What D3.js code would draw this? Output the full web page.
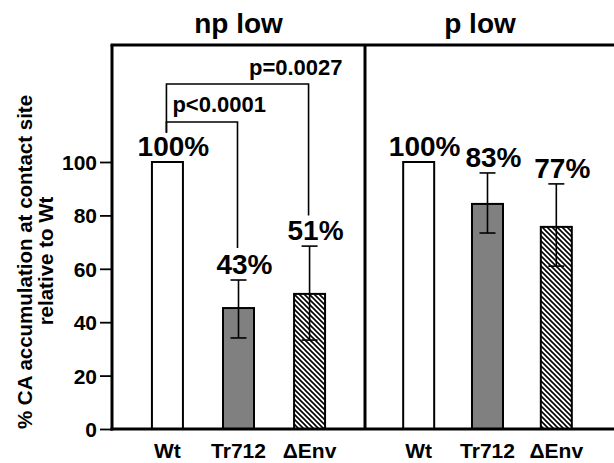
<!DOCTYPE html>
<html>
<head>
<meta charset="utf-8">
<script src="https://cdn.jsdelivr.net/npm/d3@7"></script>
<style>
  body { margin: 0; background: #fff; }
  svg { font-family: "Liberation Sans", Arial, sans-serif; font-weight: bold; }
</style>
</head>
<body>
<svg id="chart" width="614" height="463"></svg>
<script>
// Data
const categories = ["Wt", "Tr712", "\u0394Env"];
const panels = ["np low", "p low"];
const npLowValues = [100, 45.3, 50.6];
const npLowErrors = [null, [34.1, 55.8], [33.3, 68.5]];
const npLowLabels = ["100%", "43%", "51%"];
const pLowValues = [100, 84.3, 75.7];
const pLowErrors = [null, [73.4, 95.9], [61.0, 91.8]];
const pLowLabels = ["100%", "83%", "77%"];
const yTicks = [0, 20, 40, 60, 80, 100];
// significance brackets (np low panel): from, to, bar level, drop ends, text
const brackets = [
    { from: "Wt", to: "Tr712", level: 115, fromEnd: 111, toEnd: 67.8, text: "p<0.0001" },
    { from: "Wt", to: "\u0394Env", level: 129.2, fromEnd: 111, toEnd: 80, text: "p=0.0027" }
];

const svg = d3.select("#chart");
const plotTop = 45, plotBottom = 429, plotLeft = 112, plotMid = 365, plotRight = 614;
const barW = 31;
const fills = ["#fff", "#808080", "url(#hatch)"];

const y = d3.scaleLinear().domain([0, 100]).range([plotBottom, 162]);

// hatch pattern
const pat = svg.append("defs").append("pattern")
    .attr("id", "hatch")
    .attr("patternUnits", "userSpaceOnUse")
    .attr("width", 5).attr("height", 5);
pat.append("rect").attr("width", 5).attr("height", 5).attr("fill", "#fff");
pat.append("path")
    .attr("d", "M-1,-1 L6,6 M-1,4 L1,6 M4,-1 L6,1")
    .attr("stroke", "#000").attr("stroke-width", 1.6);

const xLeft = d3.scalePoint().domain(categories).range([plotLeft, plotMid]).padding(0.78);
const xRight = d3.scalePoint().domain(categories).range([plotMid, plotRight - 4]).padding(0.78);

const panelData = [
    { name: panels[0], x: xLeft, values: npLowValues, errors: npLowErrors, labels: npLowLabels, cx: (plotLeft + plotMid) / 2 },
    { name: panels[1], x: xRight, values: pLowValues, errors: pLowErrors, labels: pLowLabels, cx: 480 }
];

panelData.forEach(p => {
    const g = svg.append("g");
    const rows = categories.map((c, i) => ({ c, i, v: p.values[i], e: p.errors[i], l: p.labels[i] }));

    g.selectAll("rect.bar").data(rows).join("rect")
        .attr("class", "bar")
        .attr("x", d => p.x(d.c) - barW / 2)
        .attr("y", d => y(d.v))
        .attr("width", barW)
        .attr("height", d => y(0) - y(d.v))
        .attr("fill", d => fills[d.i])
        .attr("stroke", "#000")
        .attr("stroke-width", 2);

    const eb = rows.filter(d => d.e);
    g.selectAll("line.err").data(eb).join("line")
        .attr("class", "err")
        .attr("x1", d => p.x(d.c)).attr("x2", d => p.x(d.c))
        .attr("y1", d => y(d.e[0])).attr("y2", d => y(d.e[1]))
        .attr("stroke", "#000").attr("stroke-width", 1.6);
    eb.forEach(d => {
        d.e.forEach(v => {
            g.append("line")
                .attr("x1", p.x(d.c) - 8).attr("x2", p.x(d.c) + 8)
                .attr("y1", y(v)).attr("y2", y(v))
                .attr("stroke", "#000").attr("stroke-width", 1.6);
        });
    });

    g.selectAll("text.pct").data(rows).join("text")
        .attr("class", "pct")
        .attr("x", d => p.x(d.c) + 6)
        .attr("y", d => y(d.e ? d.e[1] : d.v) - 6)
        .attr("text-anchor", "middle")
        .attr("font-size", 28)
        .text(d => d.l);

    g.selectAll("text.cat").data(rows).join("text")
        .attr("class", "cat")
        .attr("x", d => p.x(d.c))
        .attr("y", 458)
        .attr("text-anchor", "middle")
        .attr("font-size", 21)
        .text(d => d.c);

    svg.append("text")
        .attr("x", p.cx).attr("y", 33)
        .attr("text-anchor", "middle")
        .attr("font-size", 28)
        .text(p.name);
});

// significance brackets
brackets.forEach(b => {
    const x1 = xLeft(b.from) - 1, x2 = xLeft(b.to) - 1;
    svg.append("path")
        .attr("d", `M${x1},${y(b.fromEnd)} V${y(b.level)} H${x2} V${y(b.toEnd)}`)
        .attr("fill", "none").attr("stroke", "#000").attr("stroke-width", 1.6);
});
svg.append("text").attr("x", xLeft("Wt") + 5).attr("y", y(brackets[0].level) - 10)
    .attr("font-size", 22).text(brackets[0].text);
svg.append("text").attr("x", xLeft("\u0394Env") + 33).attr("y", y(brackets[1].level) - 9)
    .attr("text-anchor", "end").attr("font-size", 22).text(brackets[1].text);

// y axis
const yAxis = svg.append("g")
    .attr("transform", `translate(${plotLeft},0)`)
    .call(d3.axisLeft(y).tickValues(yTicks).tickSize(12).tickPadding(3).tickSizeOuter(0));
yAxis.select(".domain").remove();
yAxis.selectAll("line").attr("stroke", "#000").attr("stroke-width", 1.8);
yAxis.selectAll("text").attr("font-size", 21).attr("font-family", "Liberation Sans, Arial, sans-serif")
    .attr("font-weight", "bold").attr("fill", "#000").attr("dy", "0.36em");

// frame
const frame = svg.append("g").attr("stroke", "#000").attr("stroke-width", 3).attr("fill", "none");
frame.append("line").attr("x1", plotLeft).attr("x2", plotLeft).attr("y1", plotTop).attr("y2", plotBottom + 1.5);
frame.append("line").attr("x1", plotMid).attr("x2", plotMid).attr("y1", plotTop).attr("y2", plotBottom);
frame.append("line").attr("x1", plotLeft - 1.5).attr("x2", plotRight).attr("y1", plotTop).attr("y2", plotTop);
frame.append("line").attr("x1", plotLeft - 1.5).attr("x2", plotRight).attr("y1", plotBottom).attr("y2", plotBottom);

// y axis title
svg.append("text")
    .attr("transform", `translate(32,262) rotate(-90)`)
    .attr("text-anchor", "middle").attr("font-size", 20.5)
    .text("% CA accumulation at contact site");
svg.append("text")
    .attr("transform", `translate(53,261) rotate(-90)`)
    .attr("text-anchor", "middle").attr("font-size", 20.5)
    .text("relative to Wt");
</script>
</body>
</html>
